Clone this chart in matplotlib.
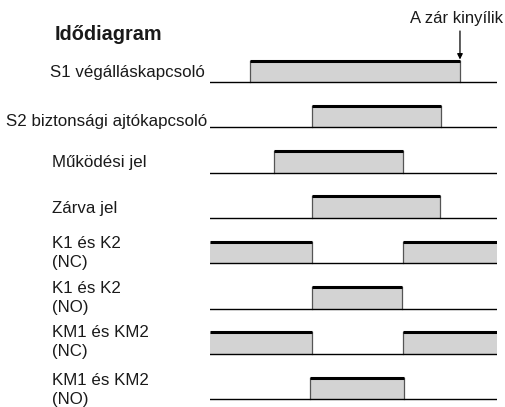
import matplotlib.pyplot as plt

plt.rcParams['font.family'] = ['Liberation Sans', 'DejaVu Sans']

# signal names and high intervals (time units, 0..100 across the time axis)
labels = ["S1 végálláskapcsoló", "S2 biztonsági ajtókapcsoló", "Működési jel",
          "Zárva jel", "K1 és K2\n(NC)", "K1 és K2\n(NO)",
          "KM1 és KM2\n(NC)", "KM1 és KM2\n(NO)"]
intervals = [
    [(13.9, 87.1)],
    [(35.5, 80.5)],
    [(22.3, 67.2)],
    [(35.5, 80.1)],
    [(0, 35.5), (67.2, 100)],
    [(35.5, 66.9)],
    [(0, 35.5), (67.2, 100)],
    [(34.8, 67.6)],
]
title = "Idődiagram"
event_label = "A zár kinyílik"
event_time = 87.1

W, H = 506, 407
fig = plt.figure(figsize=(W / 100, H / 100), dpi=100)
# time axis spans pixel x 210..497, y in pixel coordinates (top down)
ax = fig.add_axes([210 / W, 0, 287 / W, 1])
ax.set_xlim(0, 100)
ax.set_ylim(H, 0)
ax.axis('off')

base0, step, pulse_h = 82, 45.3, 21.5
fill_col = '#d3d3d3'

for i, spans in enumerate(intervals):
    yb = base0 + i * step
    yt = yb - pulse_h
    for a, b in spans:
        ax.fill_between([a, b], yb, yt, color=fill_col, lw=0)
        if a > 0:
            ax.plot([a, a], [yb, yt], color='#555555', lw=0.9)
        if b < 100:
            ax.plot([b, b], [yb, yt], color='#555555', lw=0.9)
        ax.plot([a, b], [yt, yt], color='black', lw=2.2, solid_capstyle='butt')
    ax.plot([0, 100], [yb, yb], color='black', lw=1.0)

# arrow for lock opening
ax.annotate("", xy=(event_time, base0 - pulse_h - 1), xytext=(event_time, 31),
            arrowprops=dict(arrowstyle='-|>', color='black', lw=0.9,
                            mutation_scale=8, shrinkA=0, shrinkB=0))
fig.text(457 / W, 1 - 18 / H, event_label, ha='center', va='center',
         fontsize=12, color='#1a1a1a')

fig.text(55 / W, 1 - 35 / H, title, ha='left', va='center',
         fontsize=14.3, fontweight='bold', color='#1a1a1a')

# row labels
label_pos = [(205, 72, 'right'), (207, 122, 'right'), (52, 162, 'left'),
             (52, 208, 'left'), (52, 253, 'left'), (52, 298, 'left'),
             (52, 342, 'left'), (52, 390, 'left')]
for text, (x, y, ha) in zip(labels, label_pos):
    fig.text(x / W, 1 - y / H, text, ha=ha, va='center', fontsize=12.2,
             color='#1a1a1a', linespacing=1.3)

fig.savefig('out.png', dpi=100)
